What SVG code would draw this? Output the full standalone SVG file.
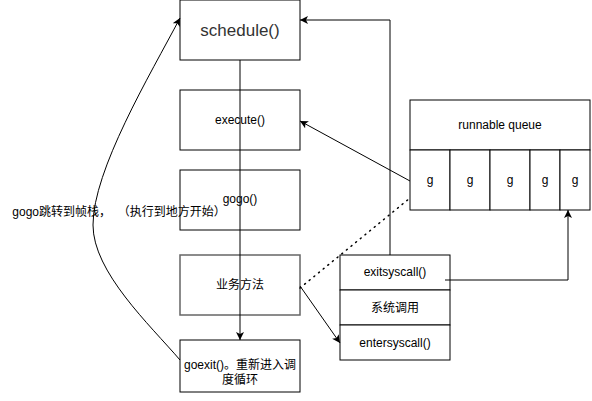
<svg xmlns="http://www.w3.org/2000/svg" width="592" height="401" viewBox="0 0 592 401">
<defs>
<marker id="arr" markerWidth="10" markerHeight="10" refX="8" refY="4" orient="auto" markerUnits="userSpaceOnUse">
<path d="M0,0 L8,4 L0,8 L2,4 Z" fill="#000"/>
</marker>
<style>
rect{fill:#fff;stroke:#000;stroke-width:1}
text{font-family:"Liberation Sans","Noto Sans CJK SC",sans-serif;font-size:12px;fill:#000;text-anchor:middle;dominant-baseline:central}
.ln{fill:none;stroke:#000;stroke-width:1}
</style>
</defs>
<rect x="0" y="0" width="592" height="401" style="fill:#fff;stroke:none"/>
<g id="schedule"><rect x="180" y="0" width="120" height="60"/><text x="240" y="30" style="font-size:17px;fill:#333">schedule()</text></g>
<g id="execute"><rect x="180" y="90" width="120" height="60"/><text x="240" y="120">execute()</text></g>
<g id="gogo"><rect x="180" y="170" width="120" height="60"/><text x="240" y="199">gogo()</text></g>
<g id="biz"><rect x="180" y="255" width="120" height="60" style="stroke:#666;stroke-width:1.5"/><text x="240" y="285">业务方法</text></g>
<g id="goexit"><rect x="180" y="340" width="120" height="52"/><text x="240" y="365">goexit()。重新进入调</text><text x="240" y="380">度循环</text></g>
<g id="queue">
<rect x="410" y="100" width="180" height="50"/><text x="500" y="125">runnable queue</text>
<rect x="410" y="150" width="40" height="60"/><text x="430" y="180">g</text>
<rect x="450" y="150" width="40" height="60"/><text x="470" y="180">g</text>
<rect x="490" y="150" width="40" height="60"/><text x="510" y="180">g</text>
<rect x="530" y="150" width="30" height="60"/><text x="545" y="180">g</text>
<rect x="560" y="150" width="30" height="60"/><text x="575" y="180">g</text>
</g>
<g id="syscall">
<rect x="340" y="255" width="110" height="35"/><text x="395" y="272">exitsyscall()</text>
<rect x="340" y="290" width="110" height="35"/><text x="395" y="308">系统调用</text>
<rect x="340" y="325" width="110" height="35"/><text x="395" y="343">entersyscall()</text>
</g>
<g id="connectors">
<path class="ln" d="M240,60 V340" marker-end="url(#arr)"/>
<path class="ln" d="M390,255 V20 H300" marker-end="url(#arr)"/>
<path class="ln" d="M410,181 L300,121" marker-end="url(#arr)"/>
<path class="ln" d="M300,288 L410,198" style="stroke-dasharray:1 5;stroke-width:1.5;stroke-linecap:round"/>
<path class="ln" d="M300,286 L340,343" marker-end="url(#arr)"/>
<path class="ln" d="M445,280 H568 V210" marker-end="url(#arr)"/>
<path class="ln" d="M180,360 C150,325 93,272 93,225 C93,170 150,75 180,18" marker-end="url(#arr)"/>
</g>
<text x="119" y="212" xml:space="preserve">gogo跳转到帧栈，  （执行到地方开始）</text>
</svg>
